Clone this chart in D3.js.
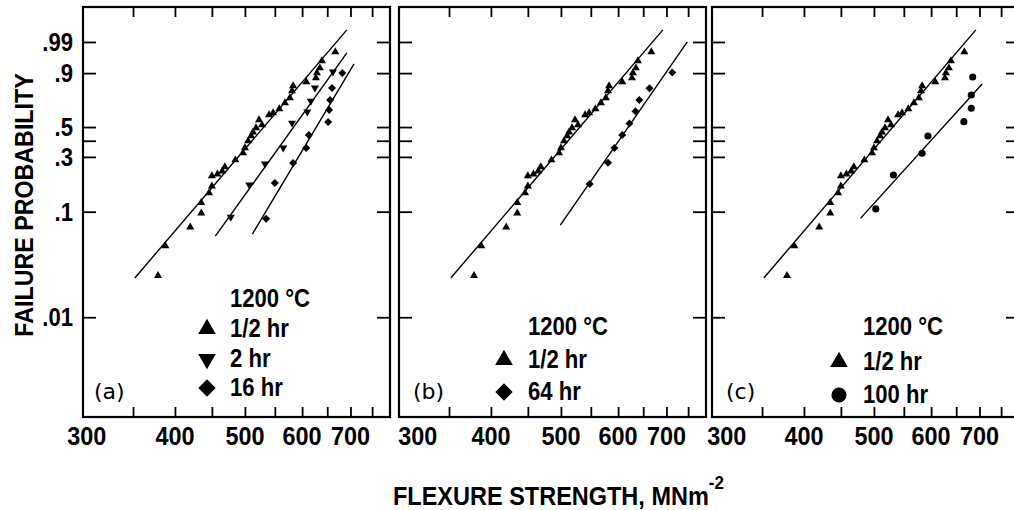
<!DOCTYPE html>
<html><head><meta charset="utf-8">
<script src="https://cdn.jsdelivr.net/npm/d3@7"></script>
<style>
html,body{margin:0;padding:0;background:#fff;overflow:hidden}
svg{display:block}
.bold{font-family:"Liberation Sans",Arial,Helvetica,sans-serif;font-weight:bold;fill:#000}
.tag{font-family:"DejaVu Sans","Liberation Sans",sans-serif;font-weight:normal;fill:#000}
</style></head><body>
<svg id="chart" width="1014" height="510"></svg>
<script>
// ---------- data ----------
const xTickValues = [350, 400, 450, 500, 550, 600, 650, 700, 750];
const xTickLabels = [300, 400, 500, 600, 700];
const yTickValues = [0.01, 0.1, 0.3, 0.4, 0.5, 0.9, 0.99];
const yTickLabels = [".01", ".1", ".3", "", ".5", ".9", ".99"];

const halfHrStrength = [379,388,420,435,435,446,450,450,458,465,469,485,497,500,505,510,513,518,523,528,540,547,558,568,577,581,583,608,627,629,635,639,667];
const halfHrProb     = [0.025,0.048,0.072,0.097,0.121,0.148,0.170,0.208,0.216,0.229,0.248,0.283,0.322,0.353,0.398,0.433,0.462,0.493,0.556,0.516,0.596,0.613,0.645,0.694,0.734,0.787,0.823,0.849,0.873,0.901,0.924,0.951,0.975];
const halfHrFit = [[352, 0.0238], [692, 0.9976]];

const twoHrStrength = [478,507,533,565,581,610,617,625,662];
const twoHrProb     = [0.089,0.174,0.263,0.353,0.532,0.621,0.710,0.809,0.906];
const twoHrFit = [[455, 0.0594], [692, 0.9729]];

const sixteenHrStrength = [535,550,583,608,613,652,654,656,660,682];
const sixteenHrProb     = [0.086,0.181,0.268,0.353,0.441,0.540,0.637,0.718,0.809,0.901];
const sixteenHrFit = [[512, 0.062], [708, 0.941]];

const sixtyFourHrStrength = [548,581,593,608,622,634,642,663,713];
const sixtyFourHrProb     = [0.177,0.269,0.353,0.441,0.528,0.626,0.718,0.807,0.903];
const sixtyFourHrFit = [[499, 0.0752], [748, 0.990]];

const hundredHrStrength = [503,532,583,594,666,682,682,685];
const hundredHrProb     = [0.106,0.212,0.321,0.433,0.542,0.651,0.757,0.879];
const hundredHrFit = [[479, 0.0868], [706, 0.836]];

const panelTags = ["(a)", "(b)", "(c)"];
const legendTitle = "1200 °C";
const yTitle = "FAILURE PROBABILITY";
const xTitle = "FLEXURE STRENGTH, MNm";
const xTitleSup = "-2";

// ---------- layout ----------
const W = 307, H = 410, TOP = 7;
const panelLefts = [83, 399, 712];
const label300Shift = [2, 17, 13];
const legendSymX = [124, 105, 127];
const legendTextX = [147, 129, 151];
const legendBaselines = [[300, 330, 360, 389], [328, 361, 393], [328, 363, 396]];
const tagX = [11, 14, 14];

const x = d3.scaleLog().domain([298.4, 794]).range([0, W]);
const wb = p => Math.log(-Math.log(1 - p));
const yLin = d3.scaleLinear().domain([wb(0.00109), wb(0.999956)]).range([H, 0]);
const y = p => yLin(wb(p));

const half = {name: "1/2 hr", s: halfHrStrength, p: halfHrProb, fit: halfHrFit, sym: "up"};
const two = {name: "2 hr", s: twoHrStrength, p: twoHrProb, fit: twoHrFit, sym: "down"};
const sixteen = {name: "16 hr", s: sixteenHrStrength, p: sixteenHrProb, fit: sixteenHrFit, sym: "diamond"};
const sixtyFour = {name: "64 hr", s: sixtyFourHrStrength, p: sixtyFourHrProb, fit: sixtyFourHrFit, sym: "diamond"};
const hundred = {name: "100 hr", s: hundredHrStrength, p: hundredHrProb, fit: hundredHrFit, sym: "circle"};
const panelSeries = [[half, two, sixteen], [half, sixtyFour], [half, hundred]];

function symbolPath(kind, big) {
  if (kind === "up" || kind === "down") return d3.symbol(d3.symbolTriangle, big ? 135 : 28)();
  if (kind === "diamond") return d3.symbol(d3.symbolSquare, big ? 150 : 32)();
  return d3.symbol(d3.symbolCircle, big ? 180 : 40)();
}
function symbolRot(kind) {
  return kind === "down" ? 180 : (kind === "diamond" ? 45 : 0);
}
// condensed bold text helper
function ctext(parent, px, py, str, size, sx, anchor, cls) {
  return parent.append("text")
    .attr("class", cls || "bold")
    .attr("transform", `translate(${px},${py}) scale(${sx},1)`)
    .attr("text-anchor", anchor || "start")
    .attr("font-size", size)
    .text(str);
}

const svg = d3.select("#chart");
svg.append("rect").attr("width", 1014).attr("height", 510).attr("fill", "#fff");

const line = d3.line().x(d => x(d[0])).y(d => y(d[1]));

panelLefts.forEach((left, i) => {
  const g = svg.append("g").attr("transform", `translate(${left},${TOP})`);

  const yVals = yTickValues.map(wb);
  const axes = [
    [d3.axisBottom(x).tickValues(xTickValues).tickSizeInner(-10), `translate(0,${H})`],
    [d3.axisTop(x).tickValues(xTickValues).tickSizeInner(-10), `translate(0,0)`],
    [d3.axisLeft(yLin).tickValues(yVals).tickSizeInner(-13), `translate(0,0)`],
    [d3.axisRight(yLin).tickValues(yVals).tickSizeInner(-13), `translate(${W},0)`]
  ];
  axes.forEach(([ax, tr]) => {
    const a = g.append("g").attr("transform", tr)
      .call(ax.tickSizeOuter(0).tickFormat(""));
    a.select(".domain").remove();
    a.selectAll("text").remove();
    a.selectAll("line").attr("stroke", "#000").attr("stroke-width", 1.8);
  });

  g.append("rect").attr("x", 0).attr("y", 0).attr("width", W).attr("height", H)
    .attr("fill", "none").attr("stroke", "#000").attr("stroke-width", 2.2);

  // x tick labels
  xTickLabels.forEach(v => {
    ctext(g, x(v) + (v === 300 ? label300Shift[i] : 0), H + 28, v, 26, 0.9, "middle");
  });

  // y tick labels (first panel only)
  if (i === 0) {
    yTickValues.forEach((v, k) => {
      if (yTickLabels[k]) ctext(g, -10, y(v) + 9, yTickLabels[k], 26, 0.85, "end");
    });
  }

  // series
  panelSeries[i].forEach(ser => {
    g.append("path").datum(ser.fit).attr("d", line)
      .attr("fill", "none").attr("stroke", "#000").attr("stroke-width", 1.4);
    const pts = ser.s.map((s, k) => [s, ser.p[k]]);
    g.selectAll(null).data(pts).enter().append("path")
      .attr("d", symbolPath(ser.sym, false))
      .attr("transform", d => `translate(${x(d[0])},${y(d[1])}) rotate(${symbolRot(ser.sym)})`)
      .attr("fill", "#000");
  });

  // legend
  const bl = legendBaselines[i];
  ctext(g, legendTextX[i], bl[0], legendTitle, 26, 0.85);
  panelSeries[i].forEach((ser, k) => {
    const by = bl[k + 1];
    g.append("path").attr("d", symbolPath(ser.sym, true))
      .attr("transform", `translate(${legendSymX[i]},${by - 8}) rotate(${symbolRot(ser.sym)})`)
      .attr("fill", "#000");
    ctext(g, legendTextX[i], by, ser.name, 26, 0.85);
  });

  // panel tag
  g.append("text").attr("class", "tag").attr("x", tagX[i]).attr("y", 392)
    .attr("font-size", 22).text(panelTags[i]);
});

// axis titles
svg.append("text").attr("class", "bold")
  .attr("transform", "translate(33,205) rotate(-90) scale(0.93,1)")
  .attr("text-anchor", "middle").attr("font-size", 25).text(yTitle);

const xt = svg.append("text").attr("class", "bold")
  .attr("transform", "translate(393,505) scale(0.94,1)")
  .attr("font-size", 25);
xt.append("tspan").text(xTitle);
xt.append("tspan").attr("dy", -16).attr("font-size", 18).text(xTitleSup);
</script>
</body></html>
